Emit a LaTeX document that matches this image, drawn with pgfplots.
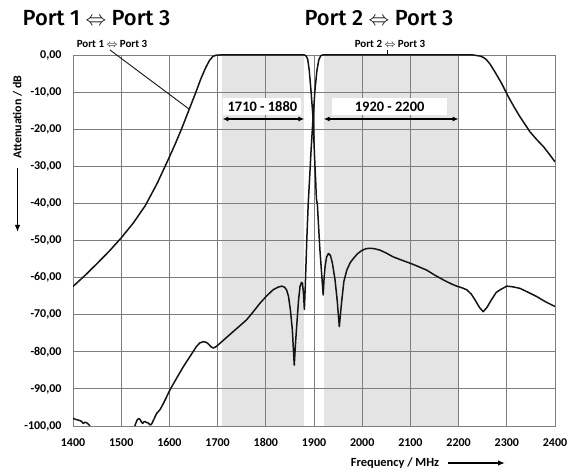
\documentclass[border=0pt]{standalone}
\usepackage{pgfplots}
\pgfplotsset{compat=1.18}
\usepackage{fontspec}
\usetikzlibrary{arrows.meta}
\setmainfont{Carlito}
\IfFontExistsTF{Fira Sans Medium}{\newfontfamily\titlefont{Fira Sans Medium}}{\newfontfamily\titlefont{Fira Sans}}
\definecolor{gridgray}{RGB}{125,125,125}
\definecolor{band}{RGB}{228,228,228}
\definecolor{curve}{RGB}{20,20,20}

\begin{document}
\begin{tikzpicture}[x=1bp,y=1bp]
\begin{axis}[
    at={(73bp,48bp)}, anchor=south west,
    scale only axis, width=482bp, height=371bp,
    xmin=1400, xmax=2400, ymin=-100, ymax=0,
    xtick={1400,1500,...,2400},
    xticklabels={1400,1500,1600,1700,1800,1900,2000,2100,2200,2300,2400},
    ytick={-100,-90,...,0},
    yticklabels={{-100,00},{-90,00},{-80,00},{-70,00},{-60,00},{-50,00},{-40,00},{-30,00},{-20,00},{-10,00},{0,00}},
    grid=major,
    major grid style={gridgray, line width=0.9bp},
    axis line style={gridgray, line width=0.9bp},
    major tick length=0pt,
    tick label style={font=\bfseries\fontsize{12}{12}\selectfont},
    xticklabel style={yshift=-9bp},
    yticklabel style={xshift=-8bp},
    set layers,
    unbounded coords=jump,
]
% pass bands
\addplot[draw=none, fill=band, on layer=axis background]
    coordinates {(1710,-100) (1710,0) (1880,0) (1880,-100)};
\addplot[draw=none, fill=band, on layer=axis background]
    coordinates {(1920,-100) (1920,0) (2200,0) (2200,-100)};

% Port 1 <-> Port 3
\addplot[curve, line width=1.5bp, line join=round] coordinates {
 (1400,-62.4) (1425,-59.4) (1450,-56.2) (1475,-52.9) (1500,-49.3) (1525,-45.3)
 (1550,-40.6) (1575,-34.5) (1600,-27.5) (1612,-24.0) (1625,-20.0)
 (1640,-15.0) (1655,-10.0) (1665,-6.5) (1675,-3.5) (1683,-1.5) (1690,-0.4)
 (1697,-0.05) (1705,0) (1880,0) (1884,-0.3) (1887,-1.2) (1890,-4) (1894,-10)
 (1898,-17) (1901,-27) (1903.5,-34) (1905,-38.8) (1907,-40.3) (1912,-52)
 (1919,-64.7) (1921,-60) (1923,-57) (1926,-54.5) (1930,-53.5) (1934,-54)
 (1938,-56) (1943.6,-60.6) (1948,-66) (1952.5,-73.2) (1957,-66.9) (1962,-61)
 (1968,-58) (1975,-56) (1982,-54.8) (1990,-53.6) (1999,-52.7) (2008,-52.2)
 (2016,-52.1) (2025,-52.2) (2037,-52.6) (2050,-53.4) (2064,-54.4) (2080,-55.2)
 (2099,-56.1) (2116,-57.0) (2134,-58.0) (2150,-59.3) (2168,-60.6) (2185,-61.7)
 (2196,-62.3) (2208,-62.8) (2217,-63.3) (2226,-64.4) (2234,-66) (2243,-68)
 (2251,-69.2) (2259,-68) (2268,-66) (2278,-64) (2286,-63.3) (2300,-62.3)
 (2313,-62.5) (2327,-62.9) (2345,-64) (2362,-65.1) (2380,-66.5) (2400,-67.8)
};

% Port 2 <-> Port 3
\addplot[curve, line width=1.5bp, line join=round] coordinates {
 (1400,-97.9) (1405,-98.2) (1411,-98.4) (1415,-98.6) (1418,-98.8) (1421,-99.3)
 (1425,-99.0) (1428,-99.1) (1431,-99.4) (1434,-99.8) (1437,-100.6)
 (1480,nan)
 (1527,-100.6) (1529,-99.7) (1533,-98.4) (1536,-98.0) (1539,-98.2) (1542,-98.9)
 (1544.5,-99.3) (1547,-98.9) (1549,-98.8) (1552,-99.0) (1556,-99.2) (1560,-99.7)
 (1563,-99.5) (1567,-98.4) (1573.6,-96.6) (1580.5,-95.6) (1586,-94.3) (1591,-93)
 (1601,-90.3) (1615,-87.1) (1629,-84.0) (1643,-81.2) (1656,-78.6) (1663,-77.6)
 (1670,-77.3) (1676,-77.4) (1681,-77.9) (1686,-78.6) (1691,-79.0) (1697,-78.6)
 (1705,-77.7) (1718,-76.2) (1732,-74.6) (1746,-73.0) (1760,-71.4) (1774,-69.2)
 (1788,-66.9) (1802,-64.9) (1815,-63.3) (1825,-62.6) (1833,-62.3) (1839,-62.6)
 (1843,-63.3) (1847,-65) (1851,-68.7) (1855,-74) (1859,-83.6) (1862,-77)
 (1865,-71.4) (1868,-66) (1871,-62.4) (1874,-61.3) (1876,-61.5) (1878,-64)
 (1880,-68.6) (1882,-62) (1885,-50) (1888,-40) (1891,-33) (1894,-25.5)
 (1898,-17) (1902,-9.5) (1906,-4.2) (1910,-1.3) (1914,-0.2) (1918,0)
 (2230,0) (2245,-0.3) (2252,-0.7) (2258,-1.3) (2266,-2.6) (2275,-4.5)
 (2289,-7.6) (2303,-11.2) (2315,-14.0) (2327,-16.6) (2348,-20.7) (2362,-22.8)
 (2376,-24.7) (2388,-26.7) (2400,-28.8)
};

% band annotations
\node[fill=white, minimum width=78bp, minimum height=17bp, inner sep=0pt,
      font=\bfseries\fontsize{14.5}{14.5}\selectfont] at (axis cs:1793,-13.9) {1710 - 1880};
\node[fill=white, minimum width=115bp, minimum height=17bp, inner sep=0pt,
      font=\bfseries\fontsize{14.5}{14.5}\selectfont] at (axis cs:2057,-13.9) {1920 - 2200};
\draw[{Latex[length=6bp,width=5bp]}-{Latex[length=6bp,width=5bp]}, line width=1.2bp]
    (axis cs:1710,-17.25) -- (axis cs:1880,-17.25);
\draw[{Latex[length=6bp,width=5bp]}-{Latex[length=6bp,width=5bp]}, line width=1.2bp]
    (axis cs:1920,-17.25) -- (axis cs:2200,-17.25);
\coordinate (c1) at (axis cs:1641,-14.6);
\coordinate (c2) at (axis cs:2053,0);
\end{axis}

% curve labels
\node[font=\bfseries\fontsize{11}{11}\selectfont] at (112,430) {Port 1 $\Leftrightarrow$ Port 3};
\node[font=\bfseries\fontsize{11}{11}\selectfont] at (390,430) {Port 2 $\Leftrightarrow$ Port 3};
\draw[curve, line width=0.9bp] (110,424) -- (c1);
\draw[curve, line width=0.9bp] (c2 |- 0,424) -- (c2);

% axis titles
\node[rotate=90, font=\bfseries\fontsize{12}{12}\selectfont] at (17.5,357) {Attenuation / dB};
\draw[-{Latex[length=7bp,width=5.5bp]}, line width=1.6bp] (17.5,306) -- (17.5,242);
\node[font=\bfseries\fontsize{12.5}{12.5}\selectfont] at (395,11) {Frequency / MHz};
\draw[-{Latex[length=7bp,width=5.5bp]}, line width=1.6bp] (448,11) -- (505,11);

% header
\node[font=\titlefont\fontsize{22}{22}\selectfont] at (96.5,456) {Port 1 $\Leftrightarrow$ Port 3};
\node[font=\titlefont\fontsize{22}{22}\selectfont] at (379,456) {Port 2 $\Leftrightarrow$ Port 3};

\pgfresetboundingbox
\path[use as bounding box] (0,0) rectangle (578,474);
\end{tikzpicture}
\end{document}
